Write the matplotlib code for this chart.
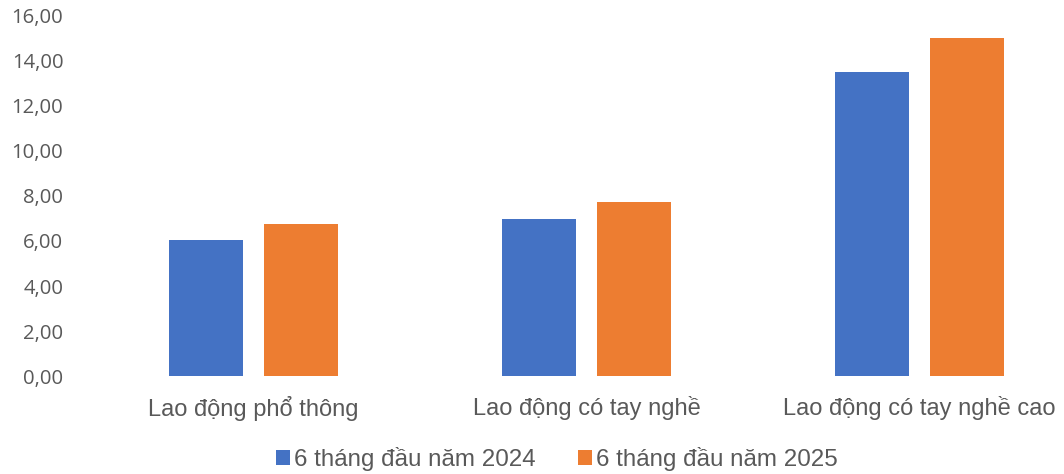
import matplotlib.pyplot as plt
import numpy as np

categories = ['Lao động phổ thông', 'Lao động có tay nghề', 'Lao động có tay nghề cao']
series_names = ['6 tháng đầu năm 2024', '6 tháng đầu năm 2025']
values_2024 = [6.06, 6.97, 13.48]
values_2025 = [6.74, 7.73, 15.00]
y_ticks = [0, 2, 4, 6, 8, 10, 12, 14, 16]

blue = '#4472C4'
orange = '#ED7D31'
grey = '#595959'

fig = plt.figure(figsize=(10.64, 4.74), dpi=100)
ax = fig.add_axes([87 / 1064, 0.206, 999 / 1064, 0.762])

x = np.arange(len(categories))
w = 0.222
ax.bar(x - 0.142, values_2024, width=w, color=blue, label=series_names[0])
ax.bar(x + 0.142, values_2025, width=w, color=orange, label=series_names[1])

ax.set_xlim(-0.5, 2.5)
ax.set_ylim(0, 16)
ax.set_yticks(y_ticks)
ax.set_yticklabels(['{:.2f}'.format(t).replace('.', ',') for t in y_ticks],
                   fontfamily='Open Sans', fontsize=14.6, color=grey)
ax.set_xticks(x)
ax.set_xticklabels(categories, fontfamily='Liberation Sans', fontsize=17, color=grey)
ax.tick_params(axis='both', length=0)
ax.tick_params(axis='y', pad=17)
ax.tick_params(axis='x', pad=14)
for s in ax.spines.values():
    s.set_visible(False)

leg = fig.legend(loc='center', bbox_to_anchor=(0.523, 0.032), ncol=2, frameon=False,
                 prop={'family': 'Liberation Sans', 'size': 17.4},
                 handlelength=0.6, handleheight=0.6, handletextpad=0.15, columnspacing=1.75)
for t in leg.get_texts():
    t.set_color(grey)

fig.savefig('out.png', dpi=100)
